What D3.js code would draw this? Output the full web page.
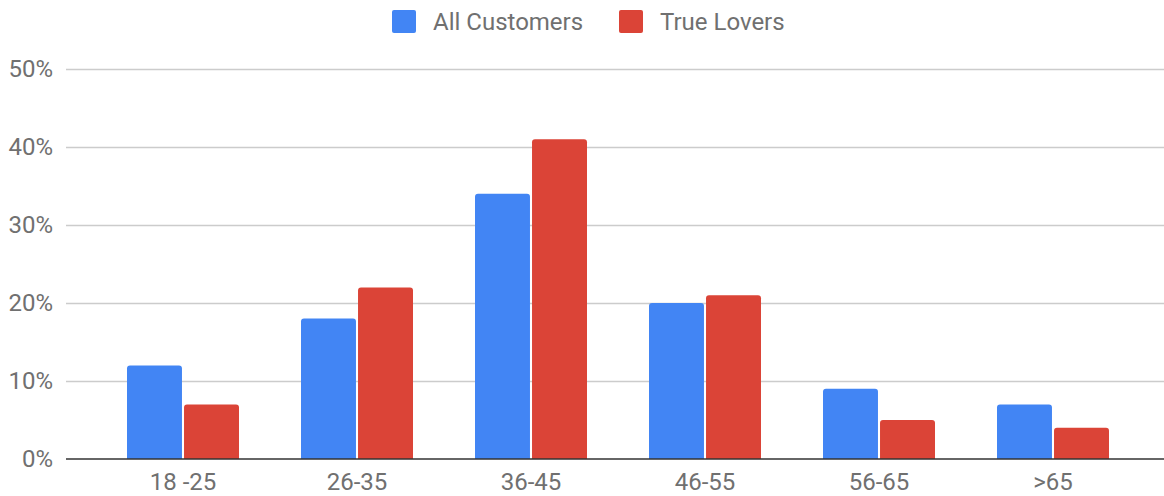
<!DOCTYPE html>
<html><head><meta charset="utf-8">
<script src="https://cdn.jsdelivr.net/npm/d3@7"></script>
<style>body{margin:0;background:#fff}svg{display:block;font-family:Roboto,Arial,sans-serif}</style>
</head><body>
<svg id="chart" width="1164" height="496"></svg>
<script>
const categories = ["18 -25","26-35","36-45","46-55","56-65",">65"];
const seriesNames = ["All Customers","True Lovers"];
const allCustomers = [12,18,34,20,9,7];
const trueLovers = [7,22,41,21,5,4];
const yTicks = [0,10,20,30,40,50];
const colors = ["#4285f4","#db4437"];

const svg = d3.select("#chart");
const series = [allCustomers, trueLovers];
const FS = 24;
const TXT = "#707070";

const y = d3.scaleLinear().domain([0,50]).range([459,69]);
const x0 = d3.scaleBand().domain(categories).range([96,1140]).padding(0);
const x1 = d3.scaleBand().domain(seriesNames).range([31,143]).paddingInner(0.036).paddingOuter(0);

// y axis labels
const yAxis = d3.axisLeft(y).tickValues(yTicks).tickFormat(d=>d+"%").tickSize(0).tickPadding(13);
const gy = svg.append("g").attr("transform","translate(66,0)").call(yAxis);
gy.select(".domain").remove();
gy.selectAll("text").attr("font-size",FS).attr("fill",TXT).attr("font-family","Roboto,Arial,sans-serif");
// gridlines
svg.append("g").selectAll("line").data(yTicks.filter(d=>d>0)).join("line")
  .attr("x1",66).attr("x2",1164)
  .attr("y1",d=>Math.round(y(d))+0.5).attr("y2",d=>Math.round(y(d))+0.5)
  .attr("stroke","#cccccc").attr("stroke-width",1.5);

// bars
function barPath(xp, w, yt, yb, r){
  r = Math.min(r, (yb-yt), w/2);
  return `M${xp},${yb}V${yt+r}Q${xp},${yt} ${xp+r},${yt}H${xp+w-r}Q${xp+w},${yt} ${xp+w},${yt+r}V${yb}Z`;
}
const g = svg.append("g");
categories.forEach((c,i)=>{
  seriesNames.forEach((s,j)=>{
    const v = series[j][i];
    g.append("path")
      .attr("d", barPath(x0(c)+x1(s), x1.bandwidth(), y(v), y(0), 3))
      .attr("fill", colors[j]);
  });
});

// baseline
svg.append("line").attr("x1",66).attr("x2",1164).attr("y1",y(0)).attr("y2",y(0))
  .attr("stroke","#333").attr("stroke-width",1.5);

// x axis labels
const xAxis = d3.axisBottom(x0).tickSize(0).tickPadding(14);
const gx = svg.append("g").attr("transform",`translate(0,${y(0)})`).call(xAxis);
gx.select(".domain").remove();
gx.selectAll("text").attr("font-size",FS).attr("fill",TXT).attr("font-family","Roboto,Arial,sans-serif");

// legend
const legendX = [392, 619];
const lg = svg.append("g");
seriesNames.forEach((s,j)=>{
  lg.append("rect").attr("x",legendX[j]).attr("y",10).attr("width",24).attr("height",23)
    .attr("rx",2).attr("fill",colors[j]);
  lg.append("text").attr("x",legendX[j]+41).attr("y",21.5).attr("dy","0.35em")
    .attr("font-size",FS).attr("fill",TXT).text(s);
});
</script>
</body></html>
